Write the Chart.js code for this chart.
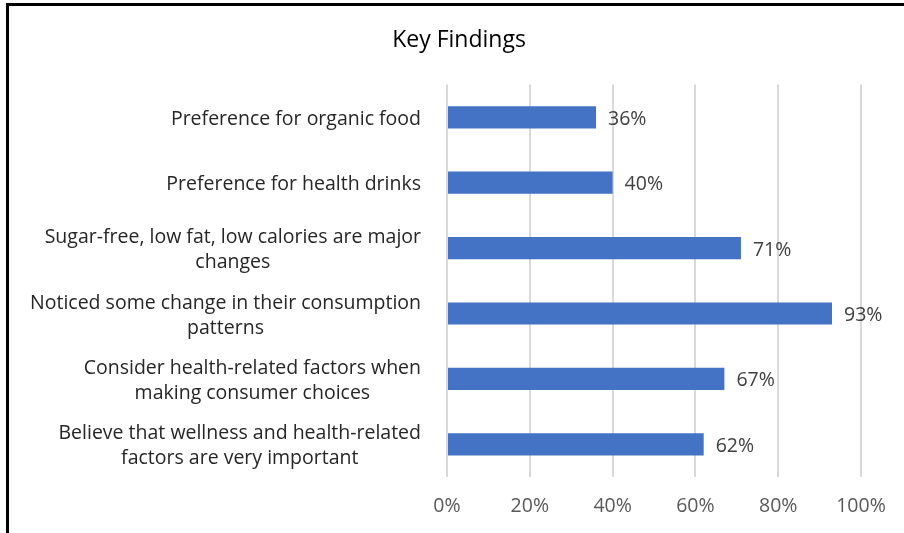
<!DOCTYPE html>
<html>
<head>
<meta charset="utf-8">
<script src="https://cdn.jsdelivr.net/npm/chart.js@4.4.1/dist/chart.umd.min.js"></script>
<style>
  html, body { margin: 0; padding: 0; background: #fff; }
  #wrap { position: relative; width: 904px; height: 533px; overflow: hidden; }
  #frame {
    position: absolute; left: 6px; top: 3px; width: 910px; height: 528px;
    border-left: 3px solid #000; border-top: 3px solid #000; border-bottom: 1px solid #a6a6a6;
    pointer-events: none;
  }
  canvas { position: absolute; left: 0; top: 0; }
</style>
</head>
<body>
<div id="wrap">
  <canvas id="findings" width="904" height="533"></canvas>
  <div id="frame"></div>
</div>
<script>
// ==========================
// Data
// ==========================
const categories = [
  ["Preference for organic food"],
  ["Preference for health drinks"],
  ["Sugar-free, low fat, low calories are major", "changes"],
  ["Noticed some change in their consumption", "patterns"],
  ["Consider health-related factors when", "making consumer choices"],
  ["Believe that wellness and health-related", "factors are very important"]
];
const shares = [36, 40, 71, 93, 67, 62];
const tickValues = [0, 20, 40, 60, 80, 100];

const FONT = "'Open Sans', Lato, sans-serif";
const TEXT_SIZE = 19.5;

// ==========================
// Category labels: block right-aligned, lines centred within block
// ==========================
const categoryLabels = {
  id: "categoryLabels",
  afterDraw(chart) {
    const ctx = chart.ctx;
    const yScale = chart.scales.y;
    const rightEdge = 421;
    const lineH = 25;
    ctx.save();
    ctx.font = TEXT_SIZE + "px " + FONT;
    ctx.fillStyle = "#262626";
    ctx.textAlign = "center";
    ctx.textBaseline = "middle";
    categories.forEach((lines, i) => {
      const yc = yScale.getPixelForValue(i) + 2;
      const maxW = Math.max(...lines.map(l => ctx.measureText(l).width));
      const xc = rightEdge - maxW / 2;
      const y0 = yc - (lines.length - 1) * lineH / 2;
      lines.forEach((l, k) => ctx.fillText(l, xc, y0 + k * lineH));
    });
    ctx.restore();
  }
};

// ==========================
// Value labels at the bar ends
// ==========================
const valueLabels = {
  id: "valueLabels",
  afterDatasetsDraw(chart) {
    const ctx = chart.ctx;
    const meta = chart.getDatasetMeta(0);
    ctx.save();
    ctx.font = TEXT_SIZE + "px " + FONT;
    ctx.fillStyle = "#404040";
    ctx.textAlign = "left";
    ctx.textBaseline = "middle";
    meta.data.forEach((bar, i) => {
      ctx.fillText(shares[i] + "%", bar.x + 12, bar.y + 2);
    });
    ctx.restore();
  }
};

const ctx = document.getElementById("findings").getContext("2d");
new Chart(ctx, {
  type: "bar",
  data: {
    labels: categories.map(c => c.join(" ")),
    datasets: [{
      data: shares,
      backgroundColor: "#4472C4",
      categoryPercentage: 1,
      barPercentage: 0.34
    }]
  },
  options: {
    indexAxis: "y",
    responsive: false,
    animation: false,
    layout: { padding: { top: 0, left: 57, right: 43, bottom: 0 } },
    plugins: {
      legend: { display: false },
      tooltip: { enabled: false },
      title: {
        display: true,
        text: "Key Findings",
        color: "#000",
        font: { family: FONT, size: 23, weight: "normal" },
        padding: { top: 27, bottom: 30 }
      }
    },
    scales: {
      x: {
        min: 0,
        max: 100,
        afterBuildTicks: scale => { scale.ticks = tickValues.map(v => ({ value: v })); },
        afterFit: scale => { scale.height = 56; },
        grid: { color: "#d9d9d9", lineWidth: 2, drawTicks: false },
        border: { display: false },
        ticks: {
          padding: 18,
          color: "#595959",
          font: { family: FONT, size: TEXT_SIZE },
          callback: v => v + "%"
        }
      },
      y: {
        afterFit: scale => { scale.width = 390; },
        grid: { display: false },
        border: { display: false },
        ticks: { display: false }
      }
    }
  },
  plugins: [categoryLabels, valueLabels]
});
</script>
</body>
</html>
